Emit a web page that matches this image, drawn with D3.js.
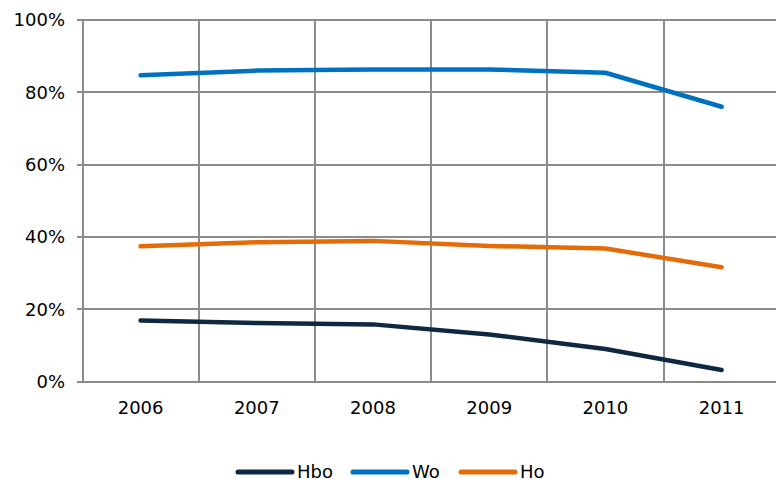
<!DOCTYPE html>
<html><head><meta charset="utf-8">
<script src="https://cdn.jsdelivr.net/npm/d3@7"></script>
<style>body{margin:0;background:#fff}svg{display:block}text{font-family:"DejaVu Sans",Verdana,sans-serif;fill:#000}</style>
</head><body><svg id="c" width="776" height="479"></svg>
<script>
const years = ["2006","2007","2008","2009","2010","2011"];
const hbo = [16.9, 16.2, 15.8, 13.0, 9.0, 3.2];
const wo  = [84.7, 86.0, 86.3, 86.3, 85.4, 76.0];
const ho  = [37.4, 38.5, 38.9, 37.5, 36.8, 31.6];
const seriesNames = ["Hbo","Wo","Ho"];
const seriesColors = ["#0e2841","#0070c0","#e36c09"];
const yTicks = [0,20,40,60,80,100];

const series = [hbo, wo, ho];
const svg = d3.select("#c");
const L = 82.5, T = 20, B = 381.5, bw = 116.2;
const x = d3.scaleBand().domain(years).range([L, L + bw*years.length]);
const y = d3.scaleLinear().domain([0,100]).range([B, T]);

const grid = svg.append("g");
grid.selectAll("line.h").data(yTicks).join("line")
  .attr("x1", L-6).attr("x2", 776).attr("y1", d=>y(d)).attr("y2", d=>y(d))
  .attr("stroke", "#8c8c8c").attr("stroke-width", 2).attr("shape-rendering","crispEdges");
grid.selectAll("line.v").data(years).join("line")
  .attr("x1", d=>x(d)).attr("x2", d=>x(d)).attr("y1", T).attr("y2", B)
  .attr("stroke", "#8c8c8c").attr("stroke-width", 2).attr("shape-rendering","crispEdges");

svg.append("g").selectAll("text").data(yTicks).join("text")
  .attr("x", 65).attr("y", d=>y(d)).attr("dy","0.36em").attr("text-anchor","end")
  .attr("font-size","18px").text(d=>d+"%");
svg.append("g").selectAll("text").data(years).join("text")
  .attr("x", d=>x(d)+bw/2).attr("y", 414).attr("text-anchor","middle")
  .attr("font-size","18px").text(d=>d);

const line = d3.line().x((d,i)=>x(years[i])+bw/2).y(d=>y(d));
svg.append("g").selectAll("path").data(series).join("path")
  .attr("d", d=>line(d)).attr("fill","none")
  .attr("stroke",(d,i)=>seriesColors[i]).attr("stroke-width",4.5)
  .attr("stroke-linecap","round").attr("stroke-linejoin","round");

const lx = [238, 353, 461];
const lg = svg.append("g").selectAll("g").data(seriesNames).join("g")
  .attr("transform",(d,i)=>`translate(${lx[i]},472)`);
lg.append("line").attr("x1",0).attr("x2",54).attr("y1",0).attr("y2",0)
  .attr("stroke",(d,i)=>seriesColors[i]).attr("stroke-width",5).attr("stroke-linecap","round");
lg.append("text").attr("x",59).attr("y",0).attr("dy","0.35em").attr("font-size","18px").text(d=>d);
</script></body></html>
